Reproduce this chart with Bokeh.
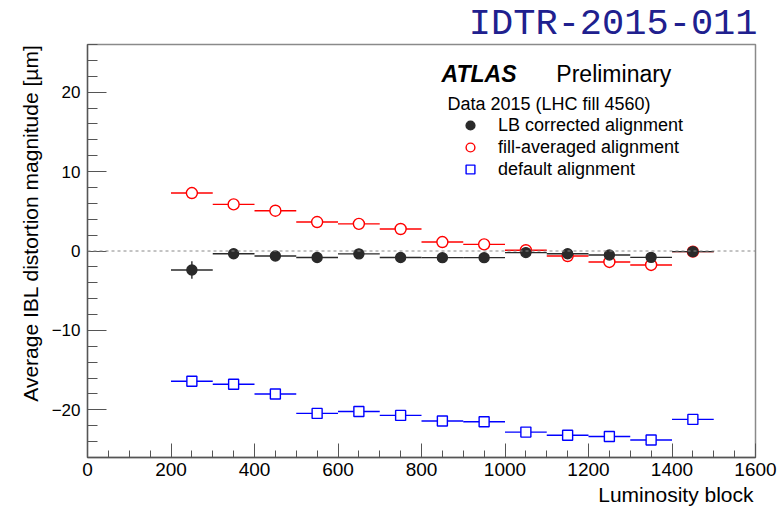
import math
from bokeh.plotting import figure
from bokeh.models import (ColumnDataSource, Label, Legend, LegendItem, Span,
                          FixedTicker, Range1d, Title)
from bokeh.embed import file_html
from bokeh.resources import INLINE

# ---- data ----
lumi_block = [250, 350, 450, 550, 650, 750, 850, 950, 1050, 1150, 1250, 1350, 1450]
lb_low = [200, 300, 400, 500, 600, 700, 800, 900, 1000, 1100, 1200, 1300, 1400]
lb_high = [300, 400, 500, 600, 700, 800, 900, 1000, 1100, 1200, 1300, 1400, 1500]

lb_corrected = [-2.4, -0.34, -0.63, -0.82, -0.36, -0.82, -0.84, -0.84, -0.2, -0.34, -0.5, -0.8, -0.08]
lb_corrected_err = [1.1, 0.5, 0.6, 0.5, 0.5, 0.5, 0.5, 0.5, 0.5, 0.5, 0.5, 0.6, 0.5]

fill_averaged = [7.3, 5.87, 5.07, 3.65, 3.42, 2.77, 1.13, 0.84, 0.1, -0.63, -1.38, -1.76, -0.08]
fill_averaged_err = [0.6, 0.5, 0.6, 0.5, 0.5, 0.5, 0.5, 0.5, 0.6, 0.5, 0.5, 0.6, 0.5]

default_align = [-16.4, -16.77, -18.0, -20.45, -20.2, -20.7, -21.4, -21.5, -22.8, -23.2, -23.35, -23.8, -21.2]
default_align_err = [0.6, 0.6, 0.5, 0.5, 0.5, 0.5, 0.6, 0.6, 0.6, 0.6, 0.6, 0.6, 0.6]

x_ticks = [0, 200, 400, 600, 800, 1000, 1200, 1400, 1600]
y_ticks = [-20, -10, 0, 10, 20]

series_labels = ["LB corrected alignment", "fill-averaged alignment", "default alignment"]
x_title = "Luminosity block"
y_title = "Average IBL distortion magnitude [µm]"

FONT = "Liberation Sans"

p = figure(width=780, height=509, output_backend="svg", toolbar_location=None,
           x_range=Range1d(0, 1600), y_range=Range1d(-26, 26),
           min_border_left=87, min_border_right=25, min_border_top=43,
           min_border_bottom=52, background_fill_color="white",
           border_fill_color="white")
p.xgrid.visible = False
p.ygrid.visible = False
p.outline_line_color = "#8a8a8a"
p.outline_line_width = 1.5

# title (document id) in the top right
p.title.text = "IDTR-2015-011"
p.title.align = "right"
p.title.text_font = "Liberation Mono"
p.title.text_font_size = "37px"
p.title.text_font_style = "normal"
p.title.text_color = "#20208e"
p.title.standoff = 0
p.title.offset = -2

# axes styling (ROOT-like: ticks inside)
p.xaxis.ticker = FixedTicker(ticks=x_ticks, minor_ticks=list(range(0, 1601, 50)))
p.yaxis.ticker = FixedTicker(ticks=y_ticks, minor_ticks=list(range(-26, 27, 2)))
for ax in (p.xaxis[0], p.yaxis[0]):
    ax.axis_line_color = "#555555"
    ax.axis_line_width = 1.3
    ax.major_tick_line_color = "#555555"
    ax.minor_tick_line_color = "#555555"
    ax.major_tick_out = 0
    ax.minor_tick_out = 0
    ax.major_label_text_font = FONT
    ax.major_label_text_color = "black"
p.xaxis.major_tick_in = 14
p.xaxis.minor_tick_in = 7
p.yaxis.major_tick_in = 19
p.yaxis.minor_tick_in = 10
p.xaxis.major_label_text_font_size = "19px"
p.yaxis.major_label_text_font_size = "17px"
p.xaxis.major_label_standoff = 5
p.yaxis.major_label_standoff = 7

# axis titles, right/top aligned as in ROOT
p.add_layout(Title(text=x_title, align="right", text_font=FONT,
                   text_font_size="21px", text_font_style="normal",
                   text_color="black", standoff=5, offset=2), "below")
p.add_layout(Title(text=y_title, align="right", text_font=FONT,
                   text_font_size="21px", text_font_style="normal",
                   text_color="black", standoff=13, offset=0), "left")

# zero line
p.add_layout(Span(location=0, dimension="width", line_color="#888888",
                  line_dash="3 3", line_width=1))


def draw_series(yvals, yerr, color, marker, size, fill):
    src = ColumnDataSource(dict(
        x=lumi_block, y=yvals, lo=lb_low, hi=lb_high,
        ylo=[v - e for v, e in zip(yvals, yerr)],
        yhi=[v + e for v, e in zip(yvals, yerr)]))
    p.segment(x0="lo", y0="y", x1="hi", y1="y", source=src,
              line_color=color, line_width=1.4)
    p.segment(x0="x", y0="ylo", x1="x", y1="yhi", source=src,
              line_color=color, line_width=1.4)
    r = p.scatter(x="x", y="y", source=src, marker=marker, size=size,
                  line_color=color, fill_color=fill, line_width=1.4)
    return r


r_def = draw_series(default_align, default_align_err, "#0000ff", "square", 10, "white")
r_fill = draw_series(fill_averaged, fill_averaged_err, "#ff0000", "circle", 11, "white")
r_lb = draw_series(lb_corrected, lb_corrected_err, "#2a2a2a", "circle", 10, "#2a2a2a")

legend = Legend(items=[
    LegendItem(label=series_labels[0], renderers=[r_lb]),
    LegendItem(label=series_labels[1], renderers=[r_fill]),
    LegendItem(label=series_labels[2], renderers=[r_def]),
], location=(372, 277), orientation="vertical",
    glyph_width=22, glyph_height=22, label_height=22, label_standoff=17,
    spacing=0, padding=0, margin=0, border_line_color=None,
    background_fill_alpha=0, label_text_font=FONT, label_text_font_size="18px",
    label_text_color="black", label_text_baseline="middle")
p.add_layout(legend)

# texts inside the frame
p.add_layout(Label(x=848, y=22.3, text="ATLAS", text_font=FONT,
                   text_font_style="bold italic", text_font_size="23px",
                   text_baseline="middle", text_color="black"))
p.add_layout(Label(x=1123, y=22.3, text="Preliminary", text_font=FONT,
                   text_font_size="23px", text_baseline="middle",
                   text_color="black"))
p.add_layout(Label(x=862, y=18.5, text="Data 2015 (LHC fill 4560)",
                   text_font=FONT, text_font_size="18px",
                   text_baseline="middle", text_color="black"))

open("out.html", "w").write(file_html(p, INLINE))
